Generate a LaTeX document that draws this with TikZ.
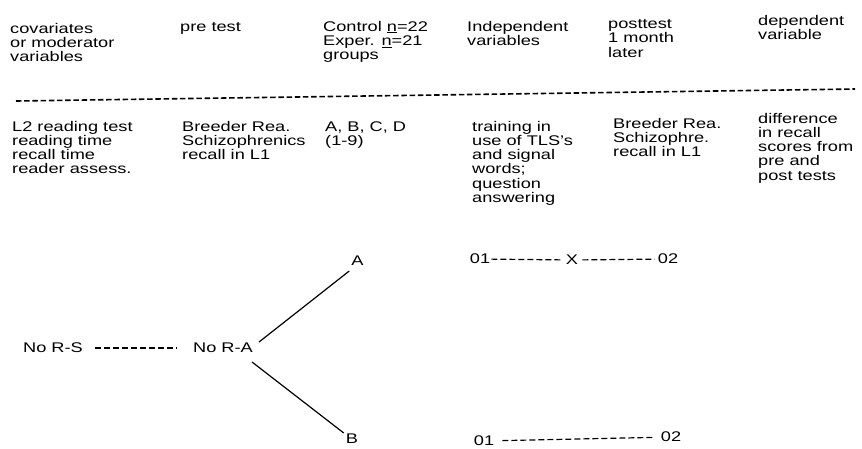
\documentclass[tikz,border=0pt]{standalone}
\usepackage{fontspec}
\setmainfont{Liberation Sans}[FakeStretch=1.3]
\begin{document}
\begin{tikzpicture}[x=1pt,y=-1pt,
  txt/.style={anchor=base west,inner sep=0pt,align=left,
    font=\fontsize{14}{14.3}\selectfont},
  lbl/.style={inner sep=0pt,font=\fontsize{14}{14.3}\selectfont},
  rule/.style={line width=1.6pt,dash pattern=on 5.5pt off 2.7pt},
  dconn/.style={line width=1.2pt,dash pattern=on 6pt off 3pt},
  sconn/.style={line width=1.2pt}]
\useasboundingbox (0,0) rectangle (862,448);
% header (positions are of the last line's baseline)
\node[txt] (h1) at (10,61.6) {covariates\\or moderator\\variables};
\node[txt] (h2) at (180,31) {pre test};
\node[txt] (h3) at (323,59.6) {Control \underline{n}=22\\Exper. \underline{n}=21\\groups};
\node[txt] (h4) at (467,45.3) {Independent\\variables};
\node[txt] (h5) at (608,57.1) {posttest\\1 month\\later};
\node[txt] (h6) at (758,39.8) {dependent\\variable};
% rule
\coordinate (r1) at (16,101);
\coordinate (r2) at (855,89);
\draw[rule] (r1) -- (r2);
% body
\node[txt] (b1) at (12,173.9) {L2 reading test\\reading time\\recall time\\reader assess.};
\node[txt] (b2) at (182,159.6) {Breeder Rea.\\Schizophrenics\\recall in L1};
\node[txt] (b3) at (325,145.3) {A, B, C, D\\(1-9)};
\node[txt] (b4) at (472,202.5) {training in\\use of TLS's\\and signal\\words;\\question\\answering};
\node[txt] (b5) at (613,156.6) {Breeder Rea.\\Schizophre.\\recall in L1};
\node[txt] (b6) at (758,180.2) {difference\\in recall\\scores from\\pre and\\post tests};
% design
\node[lbl] (nrs) at (53,348) {No R-S};
\node[lbl] (nra) at (223,348) {No R-A};
\node[lbl] (A) at (357.5,261) {A};
\node[lbl] (B) at (352,439) {B};
\draw[dconn,shorten <=12pt,shorten >=16pt] (nrs) -- (nra);
\draw[sconn] ([shift={(6,-6)}]nra.east) -- ([shift={(-2,5)}]A.south west);
\draw[sconn] ([shift={(-1,14)}]nra.east) -- ([shift={(-2,-1)}]B.north west);
\node[lbl] (o1a) at (480,259) {01};
\node[lbl] (xa) at (572,260) {X};
\node[lbl] (o2a) at (668,259) {02};
\node[lbl] (o1b) at (484,441) {01};
\node[lbl] (o2b) at (671,437) {02};
\draw[dconn,shorten <=1pt,shorten >=4pt] (o1a) -- (xa);
\draw[dconn,shorten <=4pt,shorten >=3pt] (xa) -- (o2a);
\draw[dconn,shorten <=8pt,shorten >=6pt] (o1b) -- (o2b);
\end{tikzpicture}
\end{document}
